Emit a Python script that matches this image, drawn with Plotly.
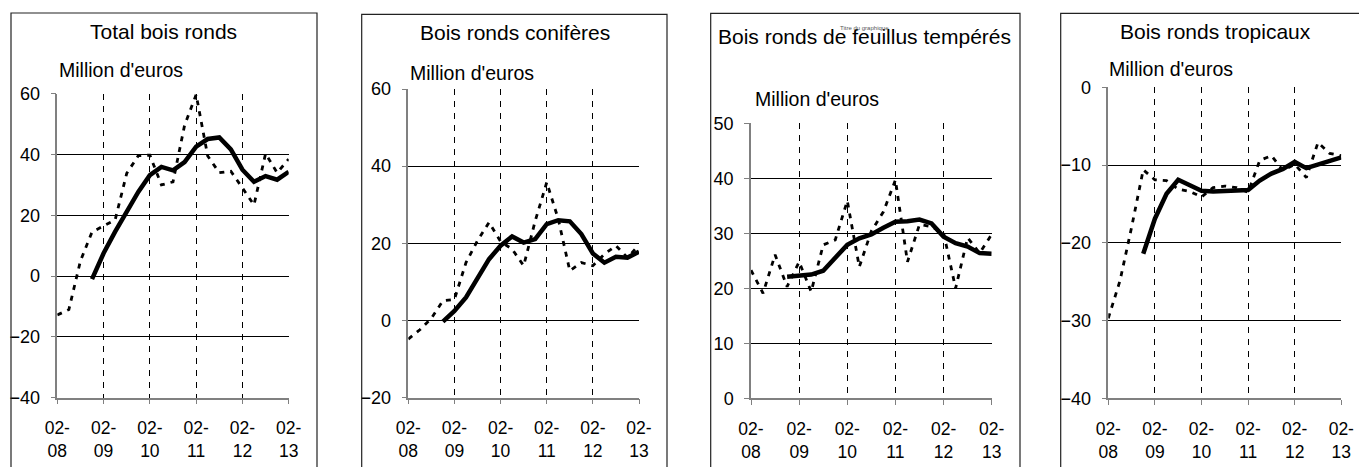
import plotly.graph_objects as go

W, H = 1359, 467

# ---------------- data ----------------
quarters = list(range(21))            # quarterly points, 02-08 ... 02-13
ma_quarters = list(range(3, 21))      # moving average starts at 4th quarter
tick_vals = [0, 4, 8, 12, 16, 20]
tick_text = ["02-<br>08", "02-<br>09", "02-<br>10", "02-<br>11", "02-<br>12", "02-<br>13"]

titles = ["Total bois ronds", "Bois ronds conifères",
          "Bois ronds de feuillus tempérés", "Bois ronds tropicaux"]
unit_label = "Million d'euros"

total_quarterly = [-12.8, -11.0, 5.0, 14.5, 16.5, 18.5, 33.8, 39.6, 39.8, 30.0, 31.0,
                   49.6, 59.7, 39.5, 34.0, 34.5, 29.0, 23.4, 40.3, 34.0, 38.5]
total_moving = [-1.0, 7.5, 14.6, 21.2, 27.7, 33.2, 35.9, 34.8, 37.5, 42.6, 45.1,
                45.6, 41.7, 35.0, 31.0, 32.9, 31.7, 34.3]

conif_quarterly = [-4.8, -2.4, 0.6, 5.1, 5.5, 15.0, 20.7, 25.4, 20.5, 18.5, 14.2,
                   25.8, 35.8, 26.3, 12.9, 15.0, 14.2, 17.2, 19.4, 16.3, 19.6]
conif_moving = [-0.3, 2.5, 6.0, 11.1, 15.9, 19.4, 21.8, 20.2, 21.1, 25.0, 26.0,
                25.7, 22.4, 17.4, 15.0, 16.5, 16.3, 17.8]

feuil_quarterly = [23.3, 19.1, 26.1, 20.3, 24.8, 19.4, 27.9, 28.8, 35.9, 23.9, 30.4,
                   33.9, 39.7, 24.8, 31.6, 31.2, 30.1, 20.0, 29.2, 26.4, 29.8]
feuil_moving = [22.1, 22.4, 22.5, 23.2, 25.5, 27.9, 29.1, 29.8, 31.0, 32.1, 32.2,
                32.5, 31.8, 29.4, 28.2, 27.6, 26.4, 26.3]

trop_quarterly = [-29.7, -24.9, -18.0, -10.6, -11.9, -12.0, -13.1, -13.4, -14.1, -12.9, -12.7,
                  -12.9, -13.5, -9.4, -8.8, -10.7, -9.9, -11.6, -7.1, -8.5, -8.8]
trop_moving = [-21.4, -16.9, -13.7, -11.9, -12.6, -13.3, -13.4, -13.3, -13.2, -13.2, -12.0,
               -11.1, -10.5, -9.6, -10.4, -9.9, -9.4, -9.0]

y_ranges = [[-40, 60], [-20, 60], [0, 50], [-40, 0]]
y_dticks = [20, 20, 10, 10]

series = [(total_quarterly, total_moving), (conif_quarterly, conif_moving),
          (feuil_quarterly, feuil_moving), (trop_quarterly, trop_moving)]

# ---------------- layout geometry (pixels) ----------------
panels = [
    dict(px=(57.3, 288.7), py=(93.7, 397.7), box=(11, 13, 317), title=(163.8, 31.7), unit=(57.3, 70)),
    dict(px=(408.3, 639.0), py=(89.0, 397.7), box=(361.7, 14.3, 667), title=(514.5, 33), unit=(408.3, 72.7)),
    dict(px=(751.0, 991.7), py=(123.3, 398.3), box=(710.7, 13.3, 1020), title=(864.7, 36), unit=(752.7, 99)),
    dict(px=(1108.3, 1341.3), py=(87.3, 398.3), box=(1060.7, 13.3, 1366), title=(1215.7, 31.7), unit=(1107.3, 69)),
]

FONT = "Arial, 'Liberation Sans', sans-serif"

def fx(p):
    return p / W

def fy(p):
    return 1 - p / H

fig = go.Figure()
layout = dict(width=W, height=H, margin=dict(l=0, r=0, t=0, b=0, autoexpand=False),
              paper_bgcolor="white", plot_bgcolor="white", showlegend=False,
              font=dict(family=FONT, color="black"))
shapes = []
annotations = []

for k, (pan, (q, m)) in enumerate(zip(panels, series)):
    n = "" if k == 0 else str(k + 1)
    xa, ya = "x" + n, "y" + n
    fig.add_trace(go.Scatter(x=quarters, y=q, mode="lines", xaxis=xa, yaxis=ya,
                             line=dict(color="black", width=2.8, dash="5px,6px"),
                             hoverinfo="skip"))
    fig.add_trace(go.Scatter(x=ma_quarters, y=m, mode="lines", xaxis=xa, yaxis=ya,
                             line=dict(color="black", width=4.5),
                             hoverinfo="skip"))
    layout["xaxis" + n] = dict(
        domain=[fx(pan["px"][0]), fx(pan["px"][1])], anchor=ya, automargin=False,
        range=[0, 20], tickmode="array", tickvals=tick_vals, ticktext=tick_text,
        showgrid=True, gridcolor="black", gridwidth=1, griddash="6px,6px",
        showline=True, linecolor="#808080", linewidth=1.5,
        ticks="outside", ticklen=5, tickcolor="#808080", tickwidth=1,
        tickfont=dict(size=17.5, family=FONT, color="black"),
        ticklabelstandoff=9, zeroline=False, fixedrange=True)
    layout["yaxis" + n] = dict(
        domain=[fy(pan["py"][1]), fy(pan["py"][0])], anchor=xa, automargin=False,
        range=y_ranges[k], dtick=y_dticks[k], tick0=0,
        showgrid=True, gridcolor="black", gridwidth=1,
        showline=True, linecolor="#808080", linewidth=1.5,
        ticks="outside", ticklen=5, tickcolor="#808080", tickwidth=1,
        tickfont=dict(size=18, family=FONT, color="black"),
        ticklabelstandoff=7, zeroline=False, fixedrange=True)

    bx0, by0, bx1 = pan["box"]
    shapes.append(dict(type="rect", xref="paper", yref="paper",
                       x0=fx(bx0), x1=fx(bx1), y0=-0.02, y1=fy(by0),
                       line=dict(color="#222222", width=1.2), fillcolor="rgba(0,0,0,0)",
                       layer="above"))
    annotations.append(dict(text=titles[k], xref="paper", yref="paper",
                            x=fx(pan["title"][0]), y=fy(pan["title"][1]),
                            xanchor="center", yanchor="middle", showarrow=False,
                            font=dict(size=21, family=FONT, color="black")))
    annotations.append(dict(text=unit_label, xref="paper", yref="paper",
                            x=fx(pan["unit"][0]), y=fy(pan["unit"][1]),
                            xanchor="left", yanchor="middle", showarrow=False,
                            font=dict(size=19.5, family=FONT, color="black")))

annotations.append(dict(text="Titre du graphique", xref="paper", yref="paper",
                        x=fx(865), y=fy(27.7), xanchor="center", yanchor="middle",
                        showarrow=False, font=dict(size=6, family=FONT, color="#555555")))

layout["shapes"] = shapes
layout["annotations"] = annotations
fig.update_layout(**layout)
fig.write_html("out.html", config={"displayModeBar": False},
               post_script="document.body.style.margin='0px';document.body.style.overflow='hidden';")
